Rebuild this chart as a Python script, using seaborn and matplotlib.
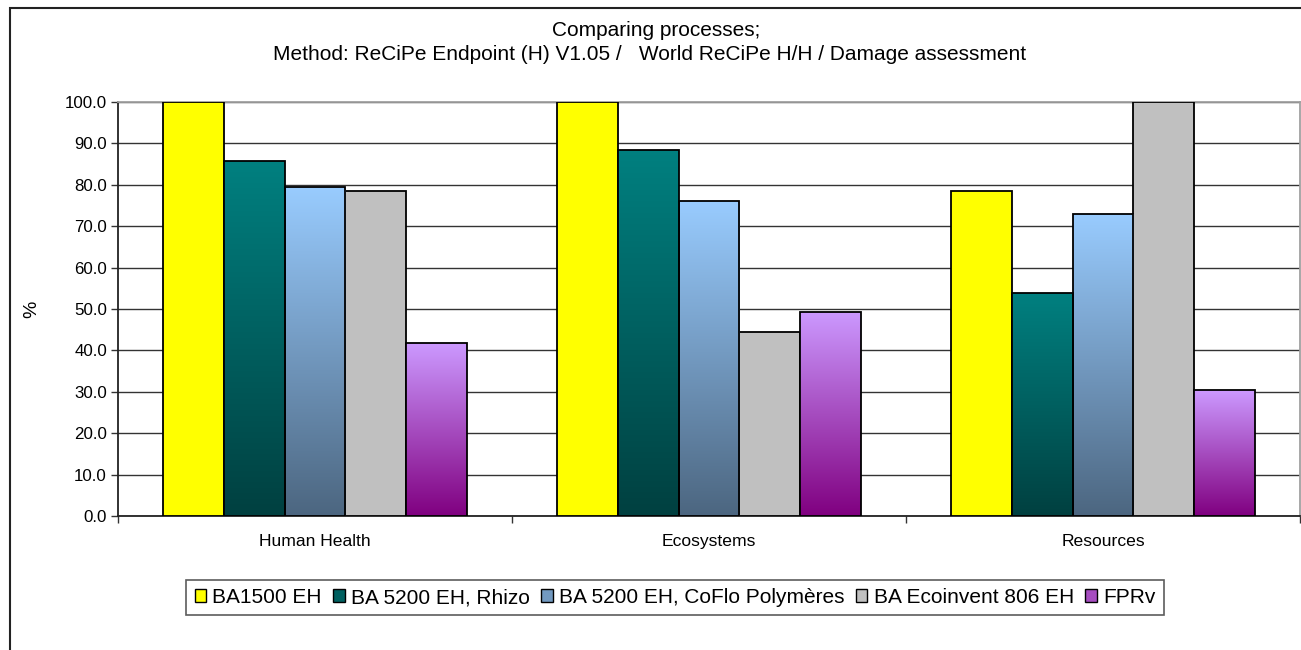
import numpy as np
import pandas as pd
import matplotlib
matplotlib.use("Agg")
import matplotlib.pyplot as plt
import seaborn as sns
from matplotlib.patches import Rectangle, Patch
from matplotlib.colors import LinearSegmentedColormap
from matplotlib.ticker import FormatStrFormatter

categories = ["Human Health", "Ecosystems", "Resources"]
processes = ["BA1500 EH", "BA 5200 EH, Rhizo", "BA 5200 EH, CoFlo Polymères",
             "BA Ecoinvent 806 EH", "FPRv"]
ba1500 = [100.0, 100.0, 78.5]
ba5200_rhizo = [85.8, 88.5, 53.8]
ba5200_coflo = [79.5, 76.1, 73.0]
ba_ecoinvent = [78.5, 44.4, 100.0]
fprv = [41.7, 49.3, 30.4]
yticks = [0, 10, 20, 30, 40, 50, 60, 70, 80, 90, 100]

series = [ba1500, ba5200_rhizo, ba5200_coflo, ba_ecoinvent, fprv]
top_colors = ["#FFFF00", "#008080", "#99CCFF", "#C0C0C0", "#CC99FF"]
bottom_colors = ["#FFFF00", "#004040", "#4C6680", "#C0C0C0", "#800080"]
gradient = [False, True, True, False, True]

rows = []
for p, vals in zip(processes, series):
    for c, v in zip(categories, vals):
        rows.append({"category": c, "process": p, "value": v})
df = pd.DataFrame(rows)

sns.set_style("white")
plt.rcParams["font.family"] = ["Liberation Sans", "DejaVu Sans"]
plt.rcParams["text.color"] = "black"
plt.rcParams["xtick.color"] = "black"
plt.rcParams["ytick.color"] = "black"
plt.rcParams["axes.labelcolor"] = "black"

fig = plt.figure(figsize=(13.01, 6.5), dpi=100)
ax = fig.add_axes([118 / 1301, 1 - 516 / 650, (1300 - 118) / 1301, (516 - 102) / 650])

mid_colors = []
for t, b in zip(top_colors, bottom_colors):
    tc = np.array(matplotlib.colors.to_rgb(t)); bc = np.array(matplotlib.colors.to_rgb(b))
    mid_colors.append(tuple((tc + bc) / 2))

sns.barplot(data=df, x="category", y="value", hue="process", order=categories,
            hue_order=processes, palette=top_colors, saturation=1, width=0.77,
            edgecolor="black", linewidth=1.3, legend=False, ax=ax, zorder=3)

ax.set_axisbelow(True)
# apply vertical gradients
for i, container in enumerate(ax.containers):
    if not gradient[i]:
        continue
    cmap = LinearSegmentedColormap.from_list("g%d" % i, [bottom_colors[i], top_colors[i]])
    for patch in container.patches:
        x0 = patch.get_x(); w = patch.get_width(); h = patch.get_height()
        grad = np.linspace(0, 1, 256).reshape(-1, 1)
        im = ax.imshow(grad, cmap=cmap, origin="lower", aspect="auto",
                       extent=[x0, x0 + w, 0, h], zorder=3, interpolation="bicubic")
        im.set_clip_path(patch)
        patch.set_facecolor("none")
        patch.set_zorder(3.2)

ax.set_xlim(-0.5, 2.5)
ax.set_ylim(0, 100)
ax.set_yticks(yticks)
ax.yaxis.set_major_formatter(FormatStrFormatter("%.1f"))
ax.grid(axis="y", color="#333333", linewidth=1.0)
ax.grid(axis="x", visible=False)

ax.set_xticks([0, 1, 2])
ax.set_xticklabels(categories, fontsize=12.6)
ax.tick_params(axis="x", length=0, pad=13)
ax.set_xticks([-0.5, 0.5, 1.5, 2.5], minor=True)
ax.tick_params(axis="x", which="minor", length=5, width=1, color="#333333", direction="out")
ax.tick_params(axis="y", length=5, width=1, color="#333333", direction="out", labelsize=12.2, pad=3)
ax.yaxis.set_ticks_position("left")
ax.xaxis.set_ticks_position("bottom")

ax.set_xlabel("")
ax.set_ylabel("%", fontsize=14)
ax.yaxis.set_label_coords(-78 / 1182, 0.5)

for s in ["left", "bottom"]:
    ax.spines[s].set_color("#222222"); ax.spines[s].set_linewidth(1.3)
for s in ["top", "right"]:
    ax.spines[s].set_color("#A0A0A0"); ax.spines[s].set_linewidth(1.3)

fig.text(656 / 1301, 1 - 30 / 650, "Comparing processes;", ha="center", va="center", fontsize=15)
fig.text(650 / 1301, 1 - 55 / 650,
         "Method: ReCiPe Endpoint (H) V1.05 /   World ReCiPe H/H / Damage assessment",
         ha="center", va="center", fontsize=15)

handles = [Patch(facecolor=mid_colors[i] if gradient[i] else top_colors[i],
                 edgecolor="black", linewidth=1.0) for i in range(5)]
leg = fig.legend(handles, processes, loc="center", bbox_to_anchor=(675 / 1301, 1 - 597.5 / 650),
                 ncol=5, frameon=True, fancybox=False, fontsize=15, handlelength=0.55,
                 handleheight=0.55, handletextpad=0.3, columnspacing=0.55, borderpad=0.4,
                 borderaxespad=0)
leg.get_frame().set_edgecolor("#333333")
leg.get_frame().set_linewidth(1.2)

fig.add_artist(Rectangle((10 / 1301, -0.02), 1.1, 1 - 8 / 650 + 0.02, transform=fig.transFigure,
                         fill=False, edgecolor="#222222", linewidth=1.5))

fig.savefig("out.png", dpi=100)
